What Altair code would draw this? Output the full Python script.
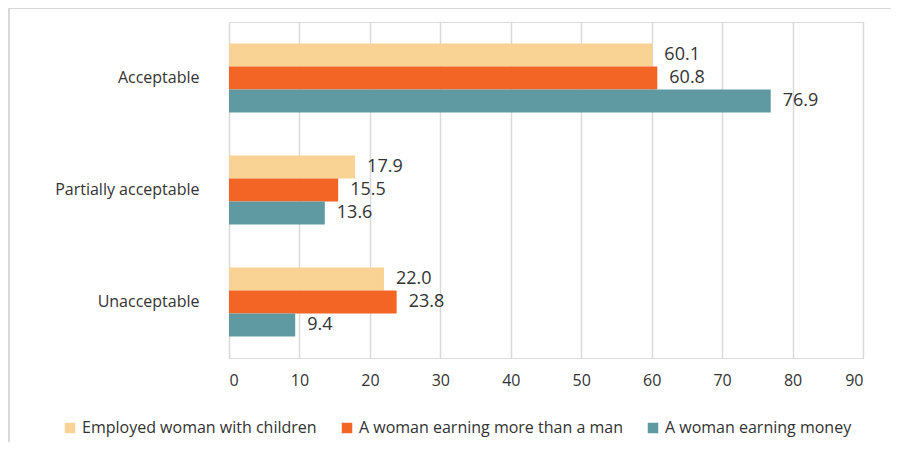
import altair as alt
import pandas as pd

categories = ["Acceptable", "Partially acceptable", "Unacceptable"]
series = ["Employed woman with children", "A woman earning more than a man", "A woman earning money"]
employed_with_children = [60.1, 17.9, 22.0]
earning_more_than_man = [60.8, 15.5, 23.8]
earning_money = [76.9, 13.6, 9.4]
colors = ["#F8D394", "#F26524", "#5F9AA3"]
x_ticks = [0, 10, 20, 30, 40, 50, 60, 70, 80, 90]

rows = []
for s, vals in zip(series, [employed_with_children, earning_more_than_man, earning_money]):
    for c, v in zip(categories, vals):
        rows.append({"category": c, "series": s, "value": v})
df = pd.DataFrame(rows)

FONT = "Open Sans"
TXT = "#333333"

y = alt.Y("category:N", sort=categories, title=None,
          scale=alt.Scale(paddingInner=0.384, paddingOuter=0.192),
          axis=alt.Axis(ticks=False, domain=False, labelPadding=30, labelFontSize=16,
                        labelFont=FONT, labelColor=TXT, labelLimit=300))
yoff = alt.YOffset("series:N", sort=series, scale=alt.Scale(paddingInner=0, paddingOuter=0))
x = alt.X("value:Q", title=None,
          scale=alt.Scale(domain=[0, 90], nice=False),
          axis=alt.Axis(values=x_ticks, ticks=False, domain=False, grid=True,
                        gridColor="#D9D9D9", gridWidth=1.5, labelPadding=14,
                        labelFontSize=16, labelFont=FONT, labelColor=TXT))

bars = alt.Chart(df).mark_bar().encode(
    y=y, yOffset=yoff, x=x,
    color=alt.Color("series:N", sort=series,
                    scale=alt.Scale(domain=series, range=colors),
                    legend=alt.Legend(title=None, orient="none", direction="horizontal",
                                      legendX=-167, legendY=398, symbolType="square",
                                      symbolSize=110, symbolStrokeWidth=0,
                                      labelFontSize=16, labelFont=FONT, labelColor=TXT,
                                      labelOffset=4,
                                      columnPadding=22, labelLimit=400, symbolOffset=0)),
)

labels = alt.Chart(df).mark_text(align="left", baseline="middle", dx=12,
                                 fontSize=18, font=FONT, color=TXT).encode(
    y=alt.Y("category:N", sort=categories), yOffset=yoff, x="value:Q",
    text=alt.Text("value:Q", format=".1f"),
)

frame = alt.Chart(alt.Data(values=[{}])).mark_rect(
    fill=None, stroke="#D9D9D9", strokeWidth=2, clip=False
).encode(x=alt.value(-220), x2=alt.value(700), y=alt.value(-14), y2=alt.value(480))

chart = alt.layer(frame, bars, labels).properties(
    width=634, height=336,
    autosize=alt.AutoSizeParams(type="none"),
    padding={"left": 221, "top": 14, "right": 28, "bottom": 84},
).configure_view(stroke=None).configure(background="white")

chart.save("out.html", embed_options={"renderer": "svg", "actions": False})
